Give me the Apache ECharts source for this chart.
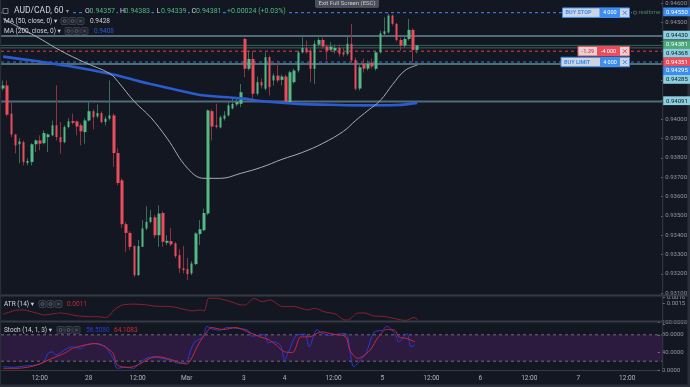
<!DOCTYPE html>
<html>
<head>
<meta charset="utf-8">
<script src="https://cdn.jsdelivr.net/npm/echarts@6/dist/echarts.min.js"></script>
<style>
html,body{margin:0;padding:0;background:#131722;overflow:hidden;}
#chart{width:690px;height:387px;}
</style>
</head>
<body>
<div id="chart"></div>
<script>
// ---------------- DATA ----------------
const symbolName = 'AUD/CAD, 60';
const sessions = [['02-27',3,23],['02-28',0,23],['03-01',0,13],['03-03',14,23],['03-04',0,23],['03-05',0,23],['03-06',0,23],['03-07',0,19]];
const tickTimes = ['02-27 12:00','02-28 00:00','02-28 12:00','03-01 00:00','03-03 14:00','03-04 00:00','03-04 12:00','03-05 00:00','03-05 12:00','03-06 00:00','03-06 12:00','03-07 00:00','03-07 12:00'];
const tickTexts = ['12:00','28','12:00','Mar','3','4','12:00','5','12:00','6','12:00','7','12:00'];

const opens = [0.94158,0.94174,0.94028,0.93921,0.93870,0.93881,0.93773,0.93778,0.93870,0.93890,
0.93876,0.93907,0.93916,0.93968,0.93907,0.93881,0.93959,0.93990,0.93988,0.93968,
0.93933,0.93993,0.94041,0.94014,0.94031,0.93985,0.94002,0.94019,0.93825,0.93684,
0.93457,0.93412,0.93344,0.93194,0.93340,0.93435,0.93469,0.93493,0.93400,0.93515,
0.93361,0.93370,0.93358,0.93297,0.93229,0.93225,0.93203,0.93251,0.93406,0.93426,
0.93512,0.94041,0.93968,0.93957,0.94002,0.94019,0.94055,0.94076,0.94079,0.94414,
0.94260,0.94311,0.94131,0.94191,0.94157,0.94320,0.94200,0.94225,0.94203,0.94220,
0.94088,0.94191,0.94251,0.94345,0.94366,0.94354,0.94260,0.94385,0.94409,0.94375,
0.94358,0.94354,0.94368,0.94345,0.94337,0.94389,0.94306,0.94158,0.94286,0.94261,
0.94292,0.94260,0.94345,0.94440,0.94448,0.94535,0.94492,0.94409,0.94380,0.94414,
0.94461,0.94357];
const closes = [0.94174,0.94023,0.93921,0.93864,0.93885,0.93778,0.93784,0.93870,0.93890,0.93873,
0.93928,0.93921,0.93968,0.93907,0.93881,0.93959,0.93988,0.93981,0.93962,0.93937,
0.93993,0.94041,0.94010,0.94031,0.93985,0.94002,0.94019,0.93825,0.93670,0.93457,
0.93412,0.93340,0.93194,0.93344,0.93435,0.93469,0.93493,0.93400,0.93512,0.93366,
0.93371,0.93353,0.93292,0.93229,0.93220,0.93199,0.93254,0.93409,0.93431,0.93515,
0.94045,0.93962,0.93959,0.94009,0.94019,0.94071,0.94078,0.94089,0.94139,0.94260,
0.94311,0.94131,0.94191,0.94174,0.94320,0.94165,0.94225,0.94200,0.94220,0.94088,
0.94242,0.94251,0.94345,0.94368,0.94345,0.94260,0.94389,0.94409,0.94375,0.94354,
0.94375,0.94368,0.94337,0.94334,0.94389,0.94303,0.94157,0.94268,0.94261,0.94287,
0.94272,0.94345,0.94443,0.94454,0.94535,0.94492,0.94409,0.94380,0.94414,0.94461,
0.94357,0.94381];
const lows = [0.94148,0.94014,0.93907,0.93823,0.93772,0.93761,0.93761,0.93761,0.93830,0.93839,
0.93870,0.93830,0.93911,0.93890,0.93822,0.93875,0.93952,0.93973,0.93916,0.93864,
0.93873,0.93988,0.93947,0.94004,0.93978,0.93968,0.93993,0.93753,0.93658,0.93437,
0.93314,0.93323,0.93184,0.93189,0.93339,0.93426,0.93462,0.93385,0.93340,0.93340,
0.93349,0.93344,0.93282,0.93206,0.93203,0.93169,0.93194,0.93246,0.93349,0.93421,
0.93504,0.93890,0.93952,0.93952,0.93993,0.94014,0.94050,0.94065,0.94062,0.94217,
0.94251,0.94096,0.94122,0.94158,0.94148,0.94122,0.94174,0.94189,0.94174,0.94081,
0.94081,0.94184,0.94241,0.94339,0.94339,0.94191,0.94182,0.94375,0.94364,0.94303,
0.94349,0.94339,0.94323,0.94323,0.94328,0.94286,0.94148,0.94148,0.94241,0.94251,
0.94261,0.94251,0.94339,0.94431,0.94442,0.94483,0.94401,0.94354,0.94370,0.94406,
0.94294,0.94339];
const highs = [0.94200,0.94200,0.94088,0.93921,0.93901,0.93890,0.93797,0.93875,0.93895,0.93916,
0.93942,0.93926,0.93993,0.94174,0.93985,0.93968,0.94004,0.94028,0.93993,0.93978,
0.94004,0.94088,0.94050,0.94076,0.94040,0.94014,0.94200,0.94029,0.93849,0.93694,
0.93468,0.93421,0.93349,0.93375,0.93478,0.93550,0.93529,0.93504,0.93555,0.93524,
0.93400,0.93438,0.93364,0.93327,0.93344,0.93282,0.93266,0.93416,0.93478,0.93538,
0.94050,0.94050,0.94079,0.94019,0.94041,0.94088,0.94110,0.94112,0.94182,0.94421,
0.94354,0.94354,0.94220,0.94210,0.94345,0.94328,0.94236,0.94303,0.94230,0.94230,
0.94251,0.94261,0.94354,0.94423,0.94406,0.94364,0.94406,0.94421,0.94421,0.94385,
0.94397,0.94385,0.94385,0.94371,0.94431,0.94492,0.94318,0.94287,0.94313,0.94303,
0.94313,0.94354,0.94457,0.94526,0.94545,0.94540,0.94498,0.94421,0.94426,0.94518,
0.94468,0.94383];

const ma50Idx = [0,5,9,14,20,26,28,32,36,40,45,49,53,58,63,68,73,78,83,86,89,92,95,98,101];
const ma50Val = [0.94519,0.94462,0.94416,0.94354,0.94292,0.94236,0.94194,0.94091,0.94009,0.93901,0.93746,0.93694,0.93694,0.93720,0.93751,0.93792,0.93828,0.93875,0.93937,0.93993,0.94045,0.94096,0.94179,0.94251,0.94279];
const ma200Idx = [0,8,16,26,32,36,44,48,58,64,72,80,88,96,101];
const ma200Val = [0.94323,0.94300,0.94274,0.94234,0.94202,0.94181,0.94143,0.94125,0.94107,0.94091,0.94079,0.94074,0.94071,0.94073,0.94084];

const atrIdx = [0,3,5,8,10,13,14,16,18,21,23,25,26,27,29,32,35,37,41,43,46,48,49,50,52,55,58,59,60,61,63,65,68,71,74,76,78,81,83,84,86,88,90,93,97,98,100,101];
const atrVal = [0.00124,0.00133,0.00134,0.00127,0.00122,0.00126,0.00127,0.00124,0.00120,0.00118,0.00118,0.00116,0.00122,0.00134,0.00146,0.00148,0.00146,0.00143,0.00142,0.00138,0.00132,0.00134,0.00132,0.00162,0.00162,0.00155,0.00146,0.00146,0.00154,0.00162,0.00154,0.00158,0.00142,0.00142,0.00134,0.00138,0.00130,0.00124,0.00110,0.00110,0.00126,0.00127,0.00120,0.00118,0.00110,0.00109,0.00116,0.00110];

const stochKIdx = [0,3,5,8,10,11,12,13,15,17,19,20,22,24,25,27,28,30,32,33,35,37,39,41,43,45,46,47,49,50,51,53,55,58,60,61,63,64,65,66,68,69,70,72,74,75,77,78,80,82,84,86,88,89,91,93,94,96,97,99,100,101];
const stochKVal = [7.5,6.2,9,11.3,18.8,37.7,41.4,33.9,45.2,52.7,49,56.5,60.3,56.5,54.2,26.4,3.8,6.1,3.8,11.3,26.4,30.1,26.4,22.6,15.1,18.8,45.2,64,75.3,99.4,94.2,90.4,96.5,94.2,90.4,76.8,79.1,80.7,61.7,64,56.5,22.6,41.4,79.1,81.4,52.7,92,84.3,79.1,81.4,82.9,7.5,26.4,37.7,86.6,90.4,99.4,82.9,64,82.9,52.7,56.508];
const stochDIdx = [0,3,6,9,12,15,17,20,23,25,27,28,31,33,36,38,41,45,46,48,50,51,54,57,60,63,65,67,69,71,73,75,78,81,84,85,87,88,90,92,94,96,97,99,100,101];
const stochDVal = [3.8,3.8,6.1,13.6,26.4,37.7,49,56.5,60.3,52.7,37.7,11.3,6.1,11.3,26.4,30.1,24.2,13.6,22.6,60.3,86.6,96.5,92,96.5,87,75.3,69.4,56.5,41.4,40,75.3,75.3,86.6,81.4,75.3,45.2,26.4,30.1,45.2,75.3,92,90.4,75.3,71.6,67.8,64.1083];
const stochBand = [20, 80];

// horizontal levels: buy stop, line, last price, line, position, buy limit, line, line
const levelValues = [0.94550,0.94430,0.94381,0.94368,0.94351,0.94295,0.94285,0.94091];
const orderLevels = [0.94550,0.94351,0.94295];
const orderNames = ['BUY STOP','-1.29','BUY LIMIT'];
const orderQty = ['4 000','-4 000','4 000'];

// ---------------- STYLES ----------------
const FONT = 'Roboto, "Noto Sans", "DejaVu Sans", sans-serif';
const BG = '#131722';
const UP = '#53b987', DOWN = '#eb4d5c', UPW = '#3b6e58', DOWNW = '#8d3441';
const BLUE = '#3d8ef0', RED = '#ea4d5c', CYAN = '#8ccfdf', LINEC = '#4f6c78';
const levelStyles = [
  {color: BLUE, dash: [3, 3], width: 1, bg: BLUE, fg: '#ffffff'},
  {color: LINEC, dash: null, width: 2, bg: CYAN, fg: '#131722'},
  {color: '#2f6c52', dash: null, width: 1, bg: '#4fa87c', fg: '#e6fff0'},
  {color: '#465a66', dash: null, width: 1, bg: CYAN, fg: '#131722'},
  {color: '#d9404f', dash: [3, 3], width: 1, bg: RED, fg: '#ffffff'},
  {color: '#3a78d8', dash: [3, 3], width: 1, bg: BLUE, fg: '#ffffff'},
  {color: LINEC, dash: null, width: 2, bg: CYAN, fg: '#131722'},
  {color: LINEC, dash: null, width: 2, bg: CYAN, fg: '#131722'}
];
const orderStyles = [
  {main: BLUE, light: '#cdd5e1', x0: 562.5, split: 599.5},
  {main: RED, light: '#e2d3d6', x0: 578, split: 597},
  {main: BLUE, light: '#cdd5e1', x0: 561, split: 600}
];

// ---------------- BUILD ----------------
const categories = [];
sessions.forEach(([d, a, b]) => { for (let h = a; h <= b; h++) categories.push(d + ' ' + String(h).padStart(2, '0') + ':00'); });
const BARW = 4.11, LEFT = 1, PLOTW = BARW * categories.length, RIGHT = LEFT + PLOTW;

const wickData = opens.map((o, i) => [o, closes[i], lows[i], highs[i]]);
const bodyData = opens.map((o, i) => [o, closes[i], Math.min(o, closes[i]), Math.max(o, closes[i])]);
const pairs = (ix, vs) => ix.map((x, i) => [x, vs[i]]);

const chart = echarts.init(document.getElementById('chart'), null, {renderer: 'canvas'});

const xAxisCfg = i => ({
  type: 'category', gridIndex: i, data: categories, boundaryGap: true,
  axisLine: {show: i === 2, lineStyle: {color: '#363a45'}},
  axisTick: {show: false},
  splitLine: {show: false},
  axisLabel: i === 2 ? {
    show: true, fontSize: 6.5, color: '#b2b5be', margin: 5, fontFamily: FONT,
    interval: (idx, val) => tickTimes.indexOf(val) >= 0,
    formatter: val => { const k = tickTimes.indexOf(val); return k >= 0 ? tickTexts[k] : ''; }
  } : {show: false}
});
const yLab = {fontSize: 6, color: '#9598a1', margin: 4, fontFamily: FONT};
const yTick = {show: true, length: 2, lineStyle: {color: '#787b86'}};

const option = {
  animation: false,
  backgroundColor: BG,
  textStyle: {fontFamily: FONT},
  grid: [
    {left: LEFT, width: PLOTW, top: 0, height: 293.3},
    {left: LEFT, width: PLOTW, top: 297, height: 27.2},
    {left: LEFT, width: PLOTW, top: 322.5, height: 47.5}
  ],
  xAxis: [xAxisCfg(0), xAxisCfg(1), xAxisCfg(2)],
  yAxis: [
    {gridIndex: 0, position: 'right', min: 0.931, max: 0.94615, interval: 0.001,
     axisLine: {show: false}, axisTick: yTick, splitLine: {show: false},
     axisLabel: Object.assign({}, yLab, {formatter: v => { const k = Math.round(v * 1000); return (k >= 941 && k <= 944) ? '' : v.toFixed(5); }})},
    {gridIndex: 1, position: 'right', min: 0.0010, max: 0.00165, interval: 0.0005,
     axisLine: {show: false}, axisTick: yTick, splitLine: {show: false},
     axisLabel: Object.assign({}, yLab, {formatter: v => v > 0.0012 ? v.toFixed(4) : ''})},
    {gridIndex: 2, position: 'right', min: 0, max: 108, interval: 40,
     axisLine: {show: false}, axisTick: yTick, splitLine: {show: false},
     axisLabel: Object.assign({}, yLab, {formatter: v => v.toFixed(4)})}
  ],
  series: [
    {type: 'candlestick', name: 'wicks', xAxisIndex: 0, yAxisIndex: 0, data: wickData, barWidth: 1,
     itemStyle: {color: UPW, color0: DOWNW, borderColor: UPW, borderColor0: DOWNW, borderWidth: 1}, z: 5},
    {type: 'candlestick', name: 'bodies', xAxisIndex: 0, yAxisIndex: 0, data: bodyData, barWidth: 3,
     itemStyle: {color: UP, color0: DOWN, borderColor: UP, borderColor0: DOWN, borderWidth: 0}, z: 6},
    {type: 'line', name: 'MA200', xAxisIndex: 0, yAxisIndex: 0, data: pairs(ma200Idx, ma200Val), smooth: 0.4, symbol: 'none',
     lineStyle: {color: '#2c5bd0', width: 2.6}, z: 7},
    {type: 'line', name: 'MA50', xAxisIndex: 0, yAxisIndex: 0, data: pairs(ma50Idx, ma50Val), smooth: 0.4, symbol: 'none',
     lineStyle: {color: '#a9abb2', width: 1}, z: 7},
    {type: 'line', name: 'ATR', xAxisIndex: 1, yAxisIndex: 1, data: pairs(atrIdx, atrVal), smooth: 0.2, symbol: 'none',
     lineStyle: {color: '#8c1f30', width: 1}, z: 5},
    {type: 'line', name: '%D', xAxisIndex: 2, yAxisIndex: 2, data: pairs(stochDIdx, stochDVal), smooth: 0.3, symbol: 'none',
     lineStyle: {color: '#c8283c', width: 1}, z: 6},
    {type: 'line', name: '%K', xAxisIndex: 2, yAxisIndex: 2, data: pairs(stochKIdx, stochKVal), smooth: 0.3, symbol: 'none',
     lineStyle: {color: '#2d3ad8', width: 1}, z: 5}
  ]
};
chart.setOption(option);

// ---------------- ANNOTATIONS ----------------
const g = [];
const txt = (x, y, text, fill, size, weight, bg) => g.push({type: 'text', x, y, z: 100, silent: true,
  style: {text, fill, fontSize: size, fontWeight: weight || 'normal', fontFamily: FONT, align: 'left', verticalAlign: 'middle',
          backgroundColor: bg || null, padding: bg ? [1, 1] : 0}});
const ctxt = (x, y, text, fill, size) => g.push({type: 'text', x, y, z: 101, silent: true,
  style: {text, fill, fontSize: size, fontFamily: FONT, align: 'center', verticalAlign: 'middle'}});
const rect = (x, y, w, h, fill, stroke, r, z) => g.push({type: 'rect', z: z || 99, silent: true,
  shape: {x, y, width: w, height: h, r: r || 0}, style: {fill, stroke: stroke || null, lineWidth: stroke ? 1 : 0}});
const line = (x1, y1, x2, y2, color, w, dash, z) => g.push({type: 'line', z: z || 98, silent: true,
  shape: {x1, y1, x2, y2}, style: {stroke: color, lineWidth: w, lineDash: dash || null}});

const yPix = v => chart.convertToPixel({yAxisIndex: 0}, v);
const yStoch = v => chart.convertToPixel({yAxisIndex: 2}, v);

// stochastic band + dashed bounds (below series)
const b0 = yStoch(stochBand[1]), b1 = yStoch(stochBand[0]);
rect(LEFT, b0, PLOTW, b1 - b0, 'rgba(126,40,160,0.24)', null, 0, 1);
stochBand.forEach(v => line(LEFT, yStoch(v), RIGHT, yStoch(v), '#6d6f78', 1, [3, 3], 2));

// horizontal level lines (from axis scale)
levelValues.forEach((v, i) => {
  const s = levelStyles[i], y = yPix(v);
  line(LEFT, y, RIGHT, y, s.color, s.width, s.dash, 2);
});

// pane separators and frame
line(0, 295.5, 690, 295.5, '#363a45', 2);
line(0, 321.5, 690, 321.5, '#363a45', 2);
line(662.7, 0, 662.7, 371, '#363a45', 1);
rect(0, 0, 1.2, 387, '#2a2e39');
rect(687.5, 0, 2.5, 387, '#2a2e39');
rect(0, 384.5, 690, 2.5, '#2a2e39');

const icons = (x0, y) => {
  for (let k = 0; k < 3; k++) {
    const x = x0 + k * 8;
    rect(x, y - 3.5, 7, 7, '#1e222d', '#3a3e4a', 1, 100);
    if (k < 2) g.push({type: 'circle', z: 101, silent: true, shape: {cx: x + 3.5, cy: y, r: 1.5}, style: {fill: 'none', stroke: '#6a6d78', lineWidth: 0.8}});
    else { line(x + 2, y - 1.5, x + 5, y + 1.5, '#6a6d78', 0.8, null, 101); line(x + 5, y - 1.5, x + 2, y + 1.5, '#6a6d78', 0.8, null, 101); }
  }
};

// header (row 1 has background boxes, as the order line passes behind it)
rect(2, 7, 8, 8, BG, null, 0, 99);
rect(3, 8.5, 5, 5, 'none', '#787b86', 0, 100);
txt(13, 11, symbolName, '#d1d4dc', 8.5, 'normal', BG);
txt(65, 11.5, '▾', '#9598a1', 6, 'normal', BG);
const last = opens.length - 1;
const ohlc = [['O', opens[last]], ['H', highs[last]], ['L', lows[last]], ['C', closes[last]]];
const ohlcX = [85, 120, 156.5, 191.5];
ohlc.forEach(([k, v], i) => {
  rect(ohlcX[i] - 1, 6.5, 32.5, 10, BG, null, 0, 99);
  txt(ohlcX[i], 11.5, k, '#d1d4dc', 7);
  txt(ohlcX[i] + 4.6, 11.5, v.toFixed(5), '#53b987', 7);
});
const chg = closes[last] - closes[last - 1];
txt(226, 11.5, (chg >= 0 ? '+' : '') + chg.toFixed(5) + ' (' + (chg >= 0 ? '+' : '') + (chg / closes[last - 1] * 100).toFixed(2) + '%)', '#53b987', 7, 'normal', BG);

txt(4, 21, 'MA (50, close, 0) ▾', '#d1d4dc', 6.5);
icons(61, 21);
txt(90, 21, ma50Val[ma50Val.length - 1].toFixed(4), '#d1d4dc', 6.5);
txt(4, 31, 'MA (200, close, 0) ▾', '#d1d4dc', 6.5);
icons(65, 31);
txt(94, 31, ma200Val[ma200Val.length - 1].toFixed(4), '#2c5bd0', 6.5);

txt(4, 304, 'ATR (14) ▾', '#d1d4dc', 6.5);
icons(39, 304);
txt(67, 304, atrVal[atrVal.length - 1].toFixed(4), '#c42b3a', 6.5);
txt(4, 330, 'Stoch (14, 1, 3) ▾', '#d1d4dc', 6.5);
icons(57, 330);
txt(86, 330, stochKVal[stochKVal.length - 1].toFixed(4), '#2d3ad8', 6.5);
txt(114, 330, stochDVal[stochDVal.length - 1].toFixed(4), '#d0283c', 6.5);

// exit full screen
rect(315, -3, 64, 11, '#4a4e59', null, 2);
ctxt(347, 3, 'Exit Full Screen (ESC)', '#c5c8ce', 6);

// price tags on right axis (stacked to avoid overlap)
const tagList = levelValues.map((v, i) => ({i, v, y: yPix(v)})).sort((a, b) => a.y - b.y);
let prevY = -100;
tagList.forEach(t => { t.ty = Math.max(t.y - 0.8, prevY + 8.7); prevY = t.ty; });
tagList.forEach(t => {
  const s = levelStyles[t.i];
  rect(663.2, t.ty - 4.4, 26.8, 8.8, s.bg);
  txt(666, t.ty + 0.3, t.v.toFixed(5), s.fg, 6);
});

// realtime indicator
const yStop = yPix(levelValues[0]);
rect(632, yStop - 4, 30, 8, BG);
g.push({type: 'circle', z: 100, silent: true, shape: {cx: 635, cy: yStop, r: 1.6}, style: {fill: 'none', stroke: '#4c7a66', lineWidth: 0.8}});
txt(638.5, yStop + 0.3, 'realtime', '#4c7a66', 6);

// order tags
orderLevels.forEach((v, i) => {
  const y = yPix(v), st = orderStyles[i], x0 = st.x0;
  const h = 9.5, top = y - h / 2;
  rect(x0, top, 629.5 - x0, h, st.light, st.main);
  rect(st.split, top, 620 - st.split, h, st.main);
  txt(x0 + 3, y + 0.3, orderNames[i], st.main, 5.5, 'bold');
  ctxt((st.split + 620) / 2, y + 0.3, orderQty[i], '#ffffff', 5.5);
  line(622.8, y - 2, 626.8, y + 2, st.main, 1, null, 101);
  line(626.8, y - 2, 622.8, y + 2, st.main, 1, null, 101);
});

chart.setOption({graphic: {elements: g}});
</script>
</body>
</html>
